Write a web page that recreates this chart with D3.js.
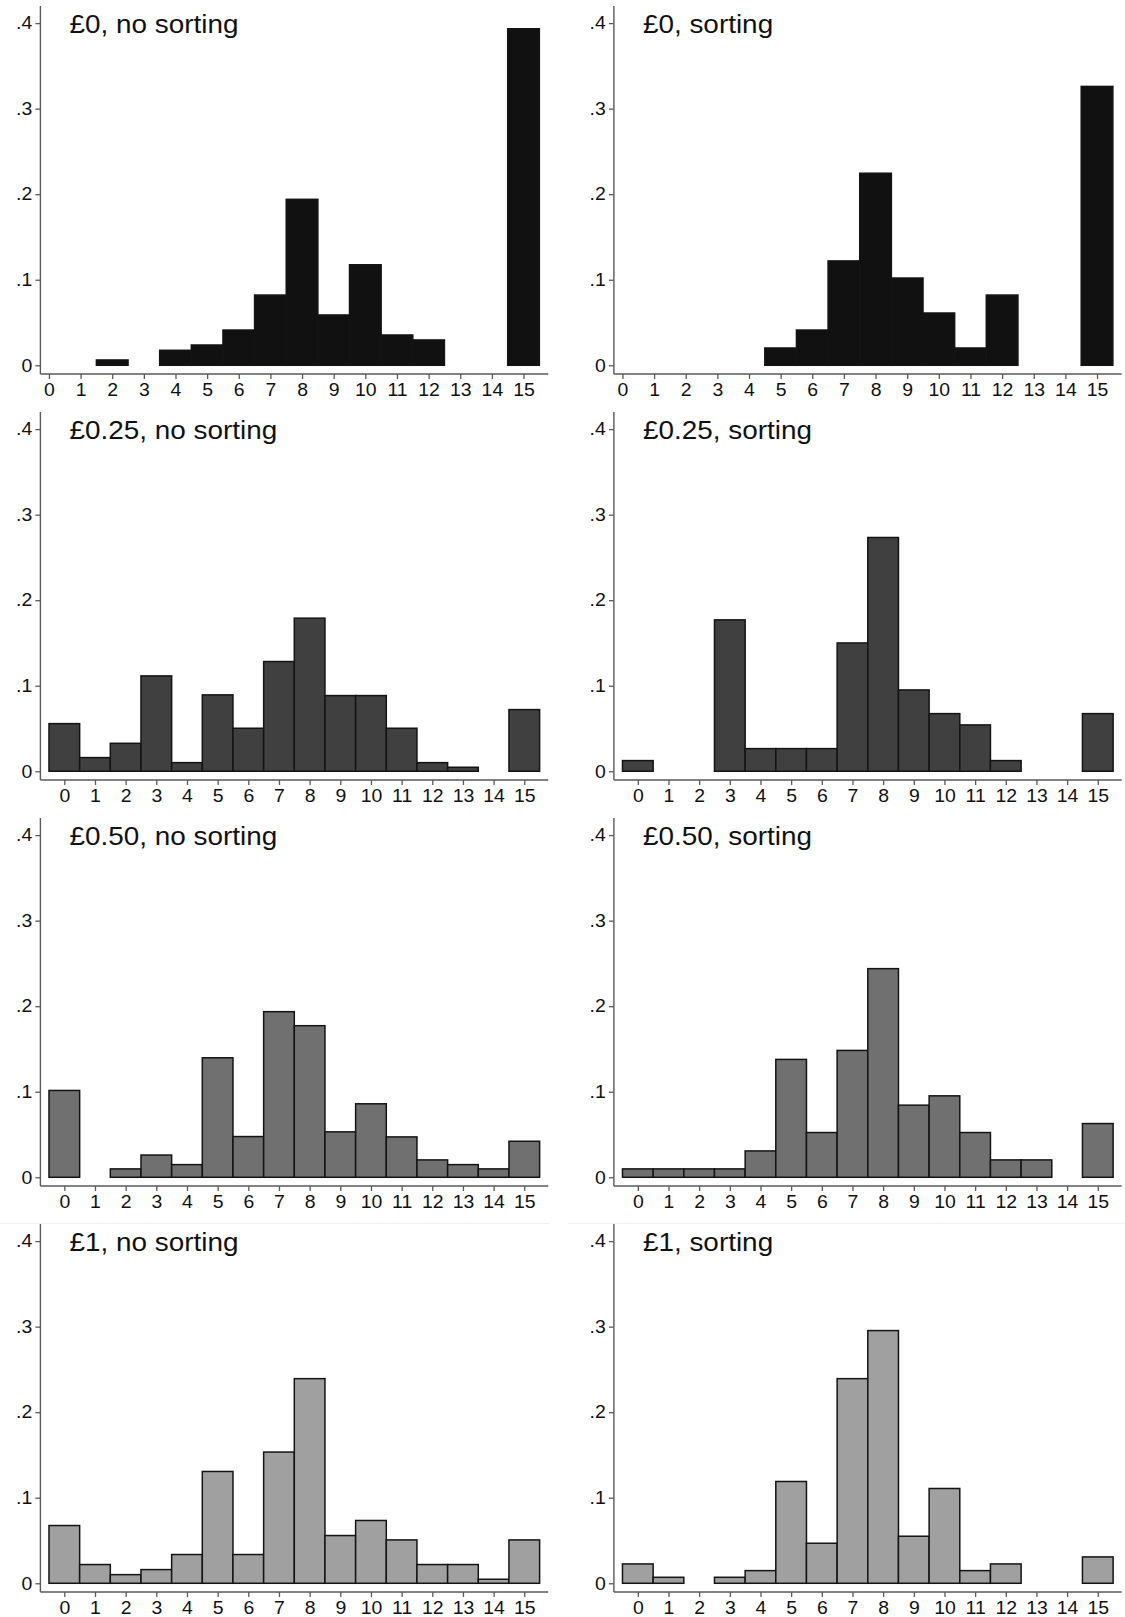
<!DOCTYPE html>
<html>
<head>
<meta charset="utf-8">
<script src="https://cdn.jsdelivr.net/npm/d3@7"></script>
<style>
  html, body { margin: 0; padding: 0; background: #ffffff; }
  svg { display: block; }
  text { font-family: "Liberation Sans", Arial, sans-serif; fill: #111; }
</style>
</head>
<body>
<svg id="chart" width="1125" height="1617"></svg>
<script>
// ---------- data ----------
const categories = [0,1,2,3,4,5,6,7,8,9,10,11,12,13,14,15];
const yTicks = [0, 0.1, 0.2, 0.3, 0.4];
const yTickLabels = ["0", ".1", ".2", ".3", ".4"];

const titles = [
  "£0, no sorting", "£0, sorting",
  "£0.25, no sorting", "£0.25, sorting",
  "£0.50, no sorting", "£0.50, sorting",
  "£1, no sorting", "£1, sorting"
];

const fee0_noSort   = [0, 0, 0.0062, 0, 0.0175, 0.0237, 0.0412, 0.0821, 0.194, 0.0588, 0.1175, 0.0354, 0.0296, 0, 0, 0.3934];
const fee0_sort     = [0, 0, 0, 0, 0, 0.0202, 0.0412, 0.122, 0.2245, 0.102, 0.0611, 0.0202, 0.0821, 0, 0, 0.326];
const fee25_noSort  = [0.0557, 0.016, 0.0327, 0.1115, 0.0101, 0.0893, 0.0503, 0.1283, 0.179, 0.0885, 0.0885, 0.0503, 0.0101, 0.0047, 0, 0.0721];
const fee25_sort    = [0.0125, 0, 0, 0.177, 0.0265, 0.0265, 0.0265, 0.150, 0.2733, 0.0951, 0.0674, 0.0542, 0.0125, 0, 0, 0.0674];
const fee50_noSort  = [0.1015, 0, 0.0098, 0.026, 0.0148, 0.1397, 0.0476, 0.1936, 0.1772, 0.0531, 0.0859, 0.0472, 0.0203, 0.0148, 0.0098, 0.0421];
const fee50_sort    = [0.0098, 0.0098, 0.0098, 0.0098, 0.0308, 0.1378, 0.0523, 0.1483, 0.2439, 0.0843, 0.0952, 0.0523, 0.0203, 0.0203, 0, 0.0628];
const fee100_noSort = [0.0675, 0.0219, 0.0101, 0.016, 0.0336, 0.1307, 0.0336, 0.1534, 0.2392, 0.0558, 0.0734, 0.0507, 0.0219, 0.0219, 0.0047, 0.0507];
const fee100_sort   = [0.0226, 0.007, 0, 0.007, 0.0148, 0.119, 0.0468, 0.2392, 0.2954, 0.055, 0.1108, 0.0148, 0.0226, 0, 0, 0.0308];

const series = [fee0_noSort, fee0_sort, fee25_noSort, fee25_sort,
                fee50_noSort, fee50_sort, fee100_noSort, fee100_sort];

// ---------- styles / layout ----------
const rowFill = ["#111111", "#404040", "#707070", "#a0a0a0"];
const rowXLo = [-0.27, -0.78, -0.78, -0.78];
const xHi = 15.78;
const colLeft = [40.4, 613.9];
const plotW = 507.8;
const rowStep = 406;
const plotTop = 6, plotBottom = 374;
const yTop = 0.42, yBottom = -0.0102;
const stretch = 1.08; // glyphs in the original are slightly wide

const svg = d3.select("#chart");

// faint separator line above last row
svg.append("line").attr("x1", 0).attr("x2", 549).attr("y1", 1223.5).attr("y2", 1223.5)
  .attr("stroke", "#eef1f4").attr("stroke-width", 1.2);
svg.append("line").attr("x1", 568).attr("x2", 1125).attr("y1", 1223.5).attr("y2", 1223.5)
  .attr("stroke", "#eef1f4").attr("stroke-width", 1.2);

series.forEach((vals, i) => {
  const row = Math.floor(i / 2), col = i % 2;
  const x0 = colLeft[col];
  const yOff = row * rowStep;

  const x = d3.scaleLinear().domain([rowXLo[row], xHi]).range([x0, x0 + plotW]);
  const y = d3.scaleLinear().domain([yBottom, yTop]).range([plotBottom + yOff, plotTop + yOff]);

  const g = svg.append("g");

  // bars
  const data = categories.map((c, k) => ({ c, v: vals[k] })).filter(d => d.v > 0);
  g.selectAll("rect.bar").data(data).enter().append("rect")
    .attr("class", "bar")
    .attr("x", d => x(d.c - 0.5))
    .attr("width", d => x(d.c + 0.5) - x(d.c - 0.5))
    .attr("y", d => y(d.v))
    .attr("height", d => y(0) - y(d.v))
    .attr("fill", rowFill[row])
    .attr("stroke", "#141414")
    .attr("stroke-width", 1.5);

  // y axis
  const yAxis = d3.axisLeft(y).tickValues(yTicks)
    .tickFormat((d, k) => yTickLabels[k]).tickSize(5).tickPadding(2.6);
  const ya = g.append("g").attr("transform", `translate(${x0},0)`).call(yAxis);
  ya.select(".domain").attr("d", `M0,${plotTop + yOff}V${plotBottom + yOff}`);

  // x axis
  const xAxis = d3.axisBottom(x).tickValues(categories).tickSize(5).tickPadding(4.5);
  const xa = g.append("g").attr("transform", `translate(0,${plotBottom + yOff})`).call(xAxis);
  xa.select(".domain").attr("d", `M${x0},0H${x0 + plotW}`);

  [ya, xa].forEach(a => {
    a.select(".domain").attr("stroke", "#5a5a5a").attr("stroke-width", 1.4);
    a.selectAll(".tick line").attr("stroke", "#5a5a5a").attr("stroke-width", 1.3);
    a.selectAll(".tick text").attr("fill", "#111").style("font-size", "18px")
      .style("font-family", "'Liberation Sans', Arial, sans-serif")
      .attr("transform", `scale(${stretch},1)`);
  });

  // title
  g.append("text")
    .attr("transform", `translate(${x0 + 29},${33.3 + yOff}) scale(1.09,1)`)
    .style("font-size", "25.6px")
    .text(titles[i]);
});
</script>
</body>
</html>
